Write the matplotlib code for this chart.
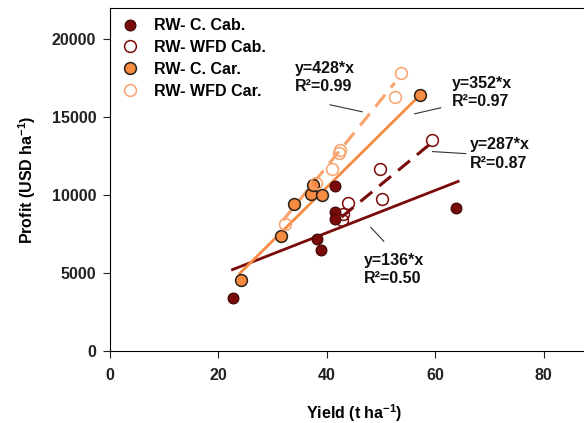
import matplotlib.pyplot as plt
import numpy as np

plt.rcParams['font.family'] = ['Liberation Sans', 'DejaVu Sans']
plt.rcParams['font.weight'] = 'bold'
plt.rcParams['mathtext.fontset'] = 'custom'
plt.rcParams['mathtext.bf'] = 'Liberation Sans:bold'
plt.rcParams['mathtext.rm'] = 'Liberation Sans:bold'

# yield (t/ha) and profit (USD/ha)
c_cab_x = [22.6, 38.2, 38.9, 41.5, 41.5, 41.5, 63.9]
c_cab_y = [3410, 7185, 6460, 10575, 8910, 8485, 9190]
wfd_cab_x = [42.9, 42.7, 43.9, 49.8, 50.2, 59.3]
wfd_cab_y = [8805, 8380, 9510, 11685, 9765, 13540]
c_car_x = [24.1, 31.6, 33.9, 37.0, 37.4, 39.1, 57.2]
c_car_y = [4585, 7375, 9400, 10085, 10660, 10020, 16440]
wfd_car_x = [32.3, 37.9, 40.9, 42.2, 42.4, 52.6, 53.6]
wfd_car_y = [8165, 10770, 11685, 12710, 12920, 16270, 17845]

# regression lines: slope, intercept, x range
fit_c_cab = (136, 2147, 22.6, 64.2)
fit_wfd_cab = (287, -3665, 42.7, 59.5)
fit_c_car = (344, -3252, 23.9, 57.1)
fit_wfd_car = (428, -5277, 31.9, 52.5)

dark_red = '#7a0a0a'
orange = '#f78b42'
light_orange = '#f9a26c'
fs = 11.5

fig = plt.figure(figsize=(5.84, 4.23), dpi=100)
ax = fig.add_axes([0.1884, 0.1702, 0.8356, 0.8109])


def fit_line(fit, **kw):
    k, b, x0, x1 = fit
    xs = np.array([x0, x1])
    ax.plot(xs, k * xs + b, **kw)


fit_line(fit_c_cab, color=dark_red, lw=2, zorder=2)
fit_line(fit_wfd_cab, color=dark_red, lw=2.2, ls=(0, (5, 3)), zorder=2)
fit_line(fit_c_car, color=orange, lw=2, zorder=2)
fit_line(fit_wfd_car, color=light_orange, lw=2.2, ls=(0, (5, 3)), zorder=2)

ax.plot(c_cab_x, c_cab_y, 'o', ms=7.8, mfc=dark_red, mec='#3a0505', mew=0.8,
        label='RW- C. Cab.', zorder=3)
ax.plot(wfd_cab_x, wfd_cab_y, 'o', ms=8.5, mfc='none', mec=dark_red, mew=1.1,
        label='RW- WFD Cab.', zorder=3)
ax.plot(c_car_x, c_car_y, 'o', ms=8.5, mfc=orange, mec='#2a2018', mew=1.1,
        label='RW- C. Car.', zorder=3)
ax.plot(wfd_car_x, wfd_car_y, 'o', ms=8.5, mfc='none', mec=light_orange, mew=1.1,
        label='RW- WFD Car.', zorder=3)

leg = ax.legend(loc='upper left', frameon=False, fontsize=fs, handletextpad=0.9,
                labelspacing=0.42, borderaxespad=0.25, handlelength=1.2,
                bbox_to_anchor=(0.0, 1.0))

# equation labels and leader lines
labels = [
    (34.1, 17550, 'y=428*x\nR²=0.99', (40.6, 46.5), (15790, 15345)),
    (63.0, 16590, 'y=352*x\nR²=0.97', (56.2, 61.0), (15215, 15600)),
    (66.4, 12630, 'y=287*x\nR²=0.87', (59.5, 65.6), (12790, 12660)),
    (46.8, 5240, 'y=136*x\nR²=0.50', (48.1, 50.5), (7930, 7035)),
]
for x, y, s, lx, ly in labels:
    ax.text(x, y, s, fontsize=fs, fontweight='bold', va='center',
            linespacing=1.3, color='#111111')
    ax.plot(lx, ly, color='#333333', lw=0.8)

ax.set_xlim(0, 90)
ax.set_ylim(0, 22000)
ax.set_xticks([0, 20, 40, 60, 80])
ax.set_yticks([0, 5000, 10000, 15000, 20000])
ax.tick_params(direction='out', length=5, labelsize=fs, colors='#222222')
for lab in ax.get_xticklabels() + ax.get_yticklabels():
    lab.set_fontweight('bold')
ax.tick_params(axis='x', pad=7)
ax.tick_params(axis='y', pad=5)
ax.set_xlabel('Yield (t ha$^{-1}$)', fontsize=fs, fontweight='bold', labelpad=14)
ax.set_ylabel('Profit (USD ha$^{-1}$)', fontsize=fs, fontweight='bold', labelpad=10)

fig.savefig('out.png', dpi=100)
